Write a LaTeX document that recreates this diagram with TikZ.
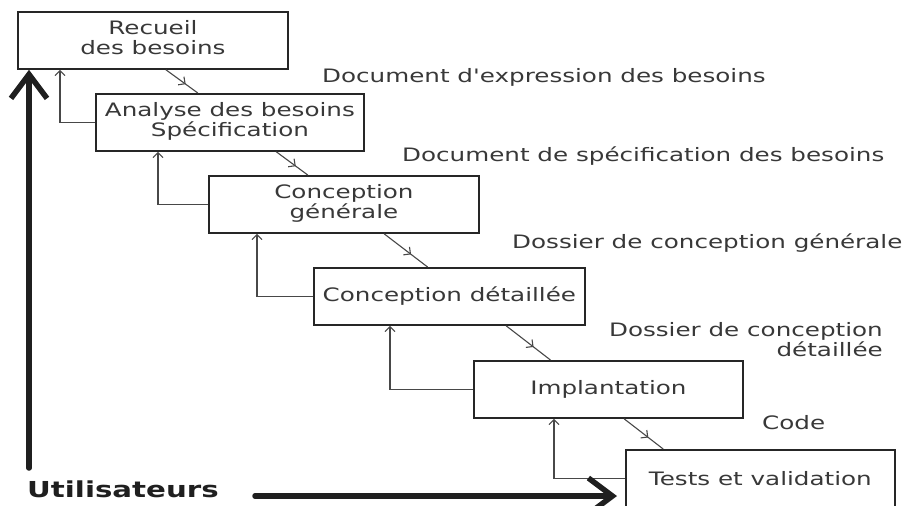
\documentclass[tikz,border=0pt]{standalone}
\usepackage{fontspec}
\usepackage{graphicx}
\setmainfont{DejaVu Sans}
\usetikzlibrary{arrows.meta,calc,decorations.markings}
\definecolor{txtgray}{HTML}{383838}
\definecolor{linegray}{HTML}{484848}
\newcommand{\wtxt}[1]{\scalebox{1.33}[1]{#1}}
\tikzset{
  phase/.style={draw=black!85, line width=1.8pt, anchor=north west, minimum width=270pt,
    minimum height=57pt, inner sep=0pt, text=txtgray, font=\fontsize{18.5}{19.5}\selectfont, align=center},
  doclabel/.style={inner sep=0pt, text=txtgray, font=\fontsize{18.5}{19.5}\selectfont},
  flowdown/.style={draw=linegray, line width=1.1pt, postaction={decorate},
    decoration={markings, mark=at position 0.62 with {\arrow{Straight Barb[length=5pt,width=10pt]}}}},
  feedback/.style={draw=linegray, line width=1.1pt, -{Straight Barb[length=5pt,width=10pt]}},
  bigarrow/.style={draw=black!88, line width=5.5pt, line cap=round,
    -{Straight Barb[length=24pt,width=36pt]}}
}
\begin{document}
\begin{tikzpicture}[x=1pt,y=-1pt]
\useasboundingbox (0,0) rectangle (906,506);
\fill[white] (0,0) rectangle (906,506);

\node[phase] (b1) at (17,11) {\wtxt{\begin{tabular}{@{}c@{}}Recueil\\des besoins\end{tabular}}};
\node[phase, minimum width=268pt] (b2) at (95,93) {\wtxt{\begin{tabular}{@{}c@{}}Analyse des besoins\\Spécification\end{tabular}}};
\node[phase] (b3) at (208,175) {\wtxt{\begin{tabular}{@{}c@{}}Conception\\générale\end{tabular}}};
\node[phase, minimum width=271pt] (b4) at (313,267) {\wtxt{Conception détaillée}};
\node[phase, minimum width=269pt] (b5) at (473,360) {\wtxt{Implantation}};
\node[phase, minimum width=269pt] (b6) at (625,449) {\wtxt{Tests et validation}};

% document labels
\node[doclabel, anchor=base west] (l1) at (322,82) {\wtxt{Document d\textquotesingle expression des besoins}};
\node[doclabel, anchor=base west] (l2) at (402,161) {\wtxt{Document de spécification des besoins}};
\node[doclabel, anchor=base west] (l3) at (512,248) {\wtxt{Dossier de conception générale}};
\node[doclabel, anchor=base east] (l4) at (883,336) {\wtxt{\begin{tabular}[t]{@{}r@{}}Dossier de conception\\détaillée\end{tabular}}};
\node[doclabel, anchor=base west] (l5) at (762,429) {\wtxt{Code}};

% forward flow
\draw[flowdown] ($(b1.south west)!0.548!(b1.south east)$) -- ($(b2.north west)!0.381!(b2.north east)$);
\draw[flowdown] ($(b2.south west)!0.672!(b2.south east)$) -- ($(b3.north west)!0.367!(b3.north east)$);
\draw[flowdown] ($(b3.south west)!0.648!(b3.south east)$) -- ($(b4.north west)!0.42!(b4.north east)$);
\draw[flowdown] ($(b4.south west)!0.708!(b4.south east)$) -- ($(b5.north west)!0.286!(b5.north east)$);
\draw[flowdown] ($(b5.south west)!0.558!(b5.south east)$) -- ($(b6.north west)!0.141!(b6.north east)$);

% feedback
\draw[feedback] (b2.west) -| ($(b1.south west)+(43,0)$);
\draw[feedback] (b3.west) -| ($(b2.south west)+(63,0)$);
\draw[feedback] (b4.west) -| ($(b3.south west)+(49,0)$);
\draw[feedback] (b5.west) -| ($(b4.south west)+(77,0)$);
\draw[feedback] (b6.west) -| ($(b5.south west)+(81,0)$);

% users
\node[inner sep=0pt, anchor=base west, text=black!88, font=\fontsize{22}{24}\selectfont\bfseries] (users) at (27,497) {\wtxt{Utilisateurs}};
\coordinate (vstart) at (29,468);
\coordinate (hstart) at (255,496);
\draw[bigarrow] (vstart) -- (vstart |- b1.south);
\draw[bigarrow, shorten >=8pt] (hstart) -- (hstart -| b6.west);
\end{tikzpicture}
\end{document}
